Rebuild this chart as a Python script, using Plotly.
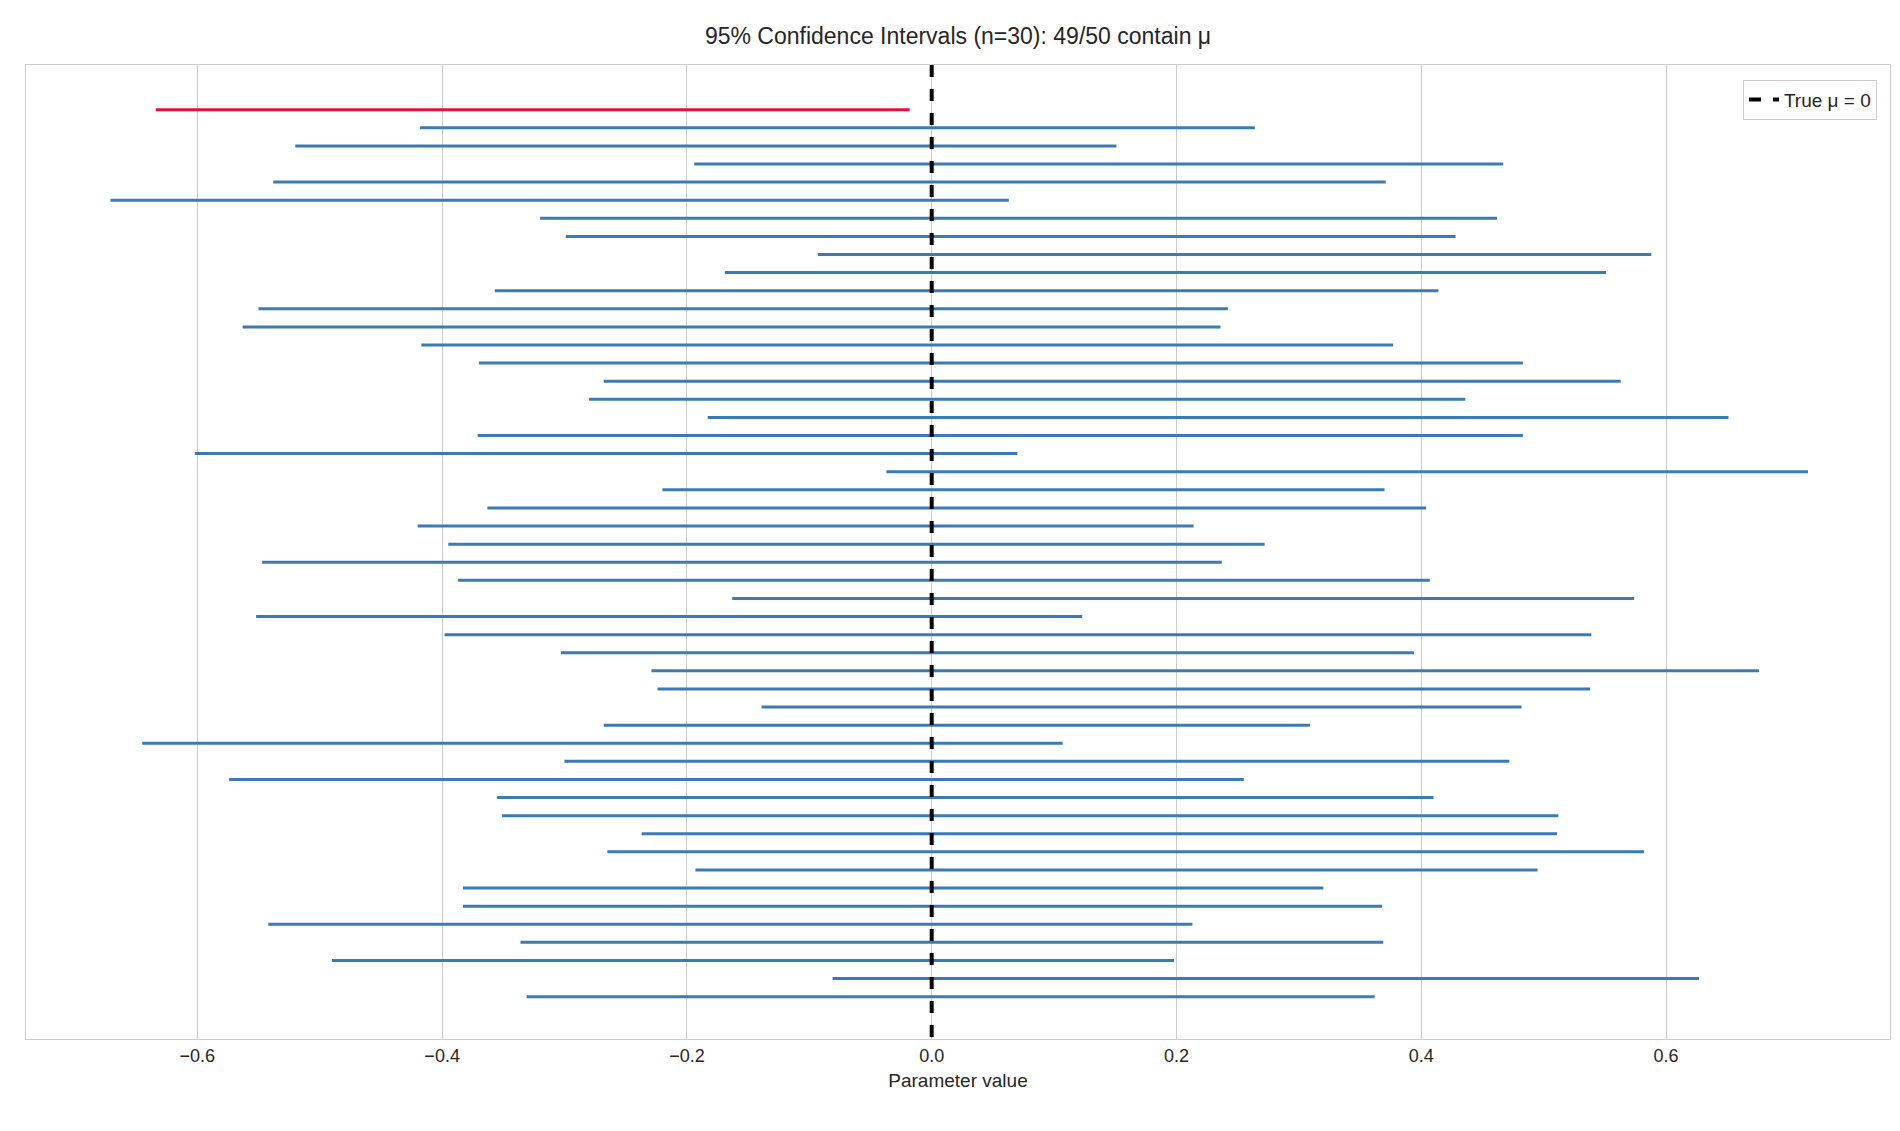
import plotly.graph_objects as go

lower = [-0.634,-0.418,-0.520,-0.194,-0.538,-0.671,-0.320,-0.299,-0.093,-0.169,
         -0.357,-0.550,-0.563,-0.417,-0.370,-0.268,-0.280,-0.183,-0.371,-0.602,
         -0.037,-0.220,-0.363,-0.420,-0.395,-0.547,-0.387,-0.163,-0.552,-0.398,
         -0.303,-0.229,-0.224,-0.139,-0.268,-0.645,-0.300,-0.574,-0.355,-0.351,
         -0.237,-0.265,-0.193,-0.383,-0.383,-0.542,-0.336,-0.490,-0.081,-0.331]
upper = [-0.018,0.264,0.151,0.467,0.371,0.063,0.462,0.428,0.588,0.551,
         0.414,0.242,0.236,0.377,0.483,0.563,0.436,0.651,0.483,0.070,
         0.716,0.370,0.404,0.214,0.272,0.237,0.407,0.574,0.123,0.539,
         0.394,0.676,0.538,0.482,0.309,0.107,0.472,0.255,0.410,0.512,
         0.511,0.582,0.495,0.320,0.368,0.213,0.369,0.198,0.627,0.362]
mu = 0.0
n_contain = sum(1 for l, u in zip(lower, upper) if l <= mu <= u)

fig = go.Figure()
bx, by, rx, ry = [], [], [], []
for i, (l, u) in enumerate(zip(lower, upper)):
    if l <= mu <= u:
        bx += [l, u, None]; by += [i, i, None]
    else:
        rx += [l, u, None]; ry += [i, i, None]
fig.add_trace(go.Scatter(x=bx, y=by, mode="lines", line=dict(color="#3a7bb5", width=3), showlegend=False, hoverinfo="skip"))
fig.add_trace(go.Scatter(x=rx, y=ry, mode="lines", line=dict(color="#dc143c", width=3), showlegend=False, hoverinfo="skip"))
fig.add_trace(go.Scatter(x=[mu, mu], y=[-2.47, 51.34], mode="lines", name="True μ = 0",
                         line=dict(color="black", width=4, dash="dash")))

fig.update_layout(
    width=1900, height=1131,
    paper_bgcolor="white", plot_bgcolor="white",
    margin=dict(l=18, r=18, t=57, b=100),
    font=dict(family="Liberation Sans, Arial, sans-serif", size=18, color="#262626"),
    title=dict(text=f"95% Confidence Intervals (n=30): {n_contain}/50 contain μ",
               x=0.5, xanchor="center", y=0.975, yanchor="middle", font=dict(size=23)),
    legend=dict(x=0.993, y=0.985, xanchor="right", yanchor="top", bgcolor="white",
                bordercolor="#cccccc", borderwidth=1, font=dict(size=19)),
    xaxis=dict(range=[-0.740, 0.783], tickvals=[-0.6,-0.4,-0.2,0,0.2,0.4,0.6],
               ticktext=["−0.6","−0.4","−0.2","0.0","0.2","0.4","0.6"],
               showgrid=True, gridcolor="#cccccc", gridwidth=1.3, zeroline=False,
               showline=True, linecolor="#cccccc", mirror=True, linewidth=1.3,
               title=dict(text="Parameter value", font=dict(size=19), standoff=8),
               tickfont=dict(size=18)),
    yaxis=dict(range=[51.34, -2.47], showticklabels=False, showgrid=False, zeroline=False,
               showline=True, linecolor="#cccccc", mirror=True, linewidth=1.3),
)
fig.write_html("out.html")
